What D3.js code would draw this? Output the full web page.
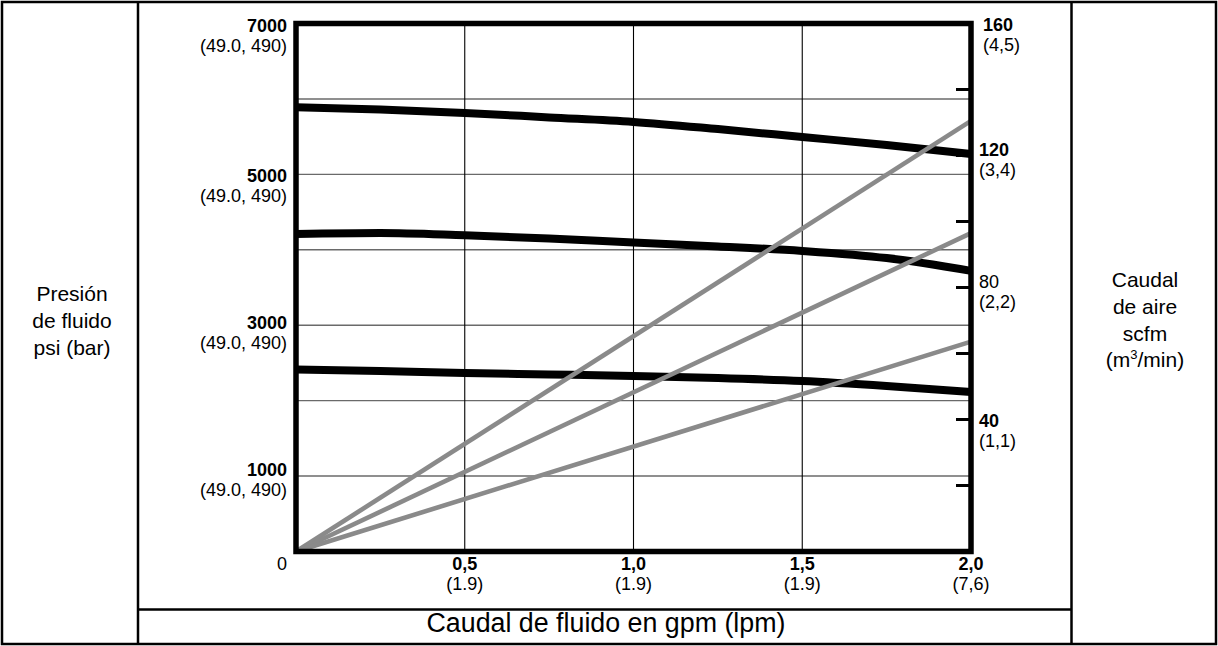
<!DOCTYPE html>
<html><head><meta charset="utf-8">
<script src="https://cdn.jsdelivr.net/npm/d3@7"></script>
<style>
html,body{margin:0;padding:0;background:#fff;}
svg{display:block;font-family:"Liberation Sans",Arial,Helvetica,sans-serif;}
</style></head>
<body>
<svg id="chart" width="1218" height="646"></svg>
<script>
// ---- data ----
const flowGpm = [0, 0.25, 0.5, 0.75, 1.0, 1.25, 1.5, 1.75, 2.0];
const pressureHigh = [5890, 5860, 5815, 5755, 5695, 5600, 5495, 5390, 5270];
const pressureMid  = [4210, 4222, 4192, 4150, 4095, 4045, 3985, 3890, 3720];
const pressureLow  = [2413, 2393, 2366, 2347, 2327, 2300, 2260, 2194, 2115];
const airGpm  = [0, 2.0];
const airHigh = [0, 130.5];
const airMid  = [0, 96.5];
const airLow  = [0, 63.6];
const psiGrid = [1000, 2000, 3000, 4000, 5000, 6000];
const psiLabels = ["7000", "5000", "3000", "1000"];
const psiSubLabels = ["(49.0, 490)", "(49.0, 490)", "(49.0, 490)", "(49.0, 490)"];
const scfmTicks = [20, 40, 60, 80, 100, 120, 140];
const scfmLabels = ["160", "120", "80", "40"];
const scfmSubLabels = ["(4,5)", "(3,4)", "(2,2)", "(1,1)"];
const gpmTicks = [0.5, 1.0, 1.5, 2.0];
const gpmLabels = ["0,5", "1,0", "1,5", "2,0"];
const lpmLabels = ["(1.9)", "(1.9)", "(1.9)", "(7,6)"];
const leftTitle = ["Presión", "de fluido", "psi (bar)"];
const rightTitle = ["Caudal", "de aire", "scfm"];
const bottomTitle = "Caudal de fluido en gpm (lpm)";

// ---- layout ----
const W = 1218, H = 646;
const P = {l: 296, r: 971, t: 23.5, b: 551.5};
const svg = d3.select("#chart");

const x = d3.scaleLinear().domain([0, 2]).range([P.l, P.r]);
const yP = d3.scaleLinear().domain([0, 7000]).range([P.b, P.t]);
const yA = d3.scaleLinear().domain([0, 160]).range([P.b, P.t]);

// outer table
const frame = svg.append("g").attr("stroke", "#000").attr("stroke-width", 2.5).attr("fill", "none");
frame.append("rect").attr("x", 2).attr("y", 2).attr("width", W - 4).attr("height", H - 4);
frame.append("line").attr("x1", 138).attr("x2", 138).attr("y1", 2).attr("y2", H - 2);
frame.append("line").attr("x1", 1071.5).attr("x2", 1071.5).attr("y1", 2).attr("y2", H - 2);
frame.append("line").attr("x1", 138).attr("x2", 1071.5).attr("y1", 609.5).attr("y2", 609.5);

// grid
const grid = svg.append("g");
grid.selectAll("line.h").data(psiGrid).join("line").attr("class", "h")
  .attr("x1", P.l).attr("x2", P.r).attr("y1", d => yP(d)).attr("y2", d => yP(d))
  .attr("stroke", "#6a6a6a").attr("stroke-width", 1.4);
grid.selectAll("line.v").data(gpmTicks.slice(0, 3)).join("line").attr("class", "v")
  .attr("x1", d => x(d)).attr("x2", d => x(d)).attr("y1", P.t).attr("y2", P.b)
  .attr("stroke", "#000").attr("stroke-width", 1.1);

// pressure curves
const lineP = d3.line().x((d, i) => x(flowGpm[i])).y(d => yP(d)).curve(d3.curveMonotoneX);
[pressureHigh, pressureMid, pressureLow].forEach(s => {
  svg.append("path").attr("d", lineP(s)).attr("fill", "none")
    .attr("stroke", "#000").attr("stroke-width", 8);
});

// air lines
const lineA = d3.line().x((d, i) => x(airGpm[i])).y(d => yA(d));
[airHigh, airMid, airLow].forEach(s => {
  svg.append("path").attr("d", lineA(s)).attr("fill", "none")
    .attr("stroke", "#8a8a8a").attr("stroke-width", 4.6);
});

// right ticks
svg.selectAll("line.rt").data(scfmTicks).join("line").attr("class", "rt")
  .attr("x1", P.r - 15).attr("x2", P.r).attr("y1", d => yA(d)).attr("y2", d => yA(d))
  .attr("stroke", "#000").attr("stroke-width", 3);

// plot frame
svg.append("rect").attr("x", P.l).attr("y", P.t).attr("width", P.r - P.l).attr("height", P.b - P.t)
  .attr("fill", "none").attr("stroke", "#000").attr("stroke-width", 5.5);

// left labels
const leftDy = [8.5, 7.5, 4, 0];
const lg = svg.append("g").attr("font-size", 18).attr("text-anchor", "end");
psiLabels.forEach((t, i) => {
  const yy = yP(+t) + leftDy[i];
  lg.append("text").attr("x", P.l - 9).attr("y", yy).attr("font-weight", "bold").text(t);
  lg.append("text").attr("x", P.l - 9).attr("y", yy + 20).text(psiSubLabels[i]);
});

// right labels
const rightDy = [7.5, 0, 0.5, 7.5];
const rightDx = [12, 8, 8, 8];
const rg = svg.append("g").attr("font-size", 18).attr("text-anchor", "start");
scfmLabels.forEach((t, i) => {
  const yy = yA(+t) + rightDy[i];
  rg.append("text").attr("x", P.r + rightDx[i]).attr("y", yy)
    .attr("font-weight", t === "80" ? "normal" : "bold").text(t);
  rg.append("text").attr("x", P.r + rightDx[i]).attr("y", yy + 20).text(scfmSubLabels[i]);
});

// bottom labels
const bg = svg.append("g").attr("font-size", 18).attr("text-anchor", "middle");
bg.append("text").attr("x", x(0) - 9).attr("y", 570).attr("text-anchor", "end").text("0");
gpmLabels.forEach((t, i) => {
  bg.append("text").attr("x", x(gpmTicks[i])).attr("y", 570).attr("font-weight", "bold").text(t);
  bg.append("text").attr("x", x(gpmTicks[i])).attr("y", 590).text(lpmLabels[i]);
});

// titles
const tl = svg.append("g").attr("font-size", 21).attr("text-anchor", "middle");
leftTitle.forEach((t, i) => tl.append("text").attr("x", 72).attr("y", 301 + i * 27).text(t));
const tr = svg.append("g").attr("font-size", 21).attr("text-anchor", "middle");
rightTitle.forEach((t, i) => tr.append("text").attr("x", 1145).attr("y", 287 + i * 27).text(t));
const last = tr.append("text").attr("x", 1145).attr("y", 287 + 3 * 26.5);
last.append("tspan").text("(m");
last.append("tspan").attr("font-size", 13).attr("dy", -8).text("3");
last.append("tspan").attr("dy", 8).text("/min)");
svg.append("text").attr("x", 606).attr("y", 632).attr("font-size", 26.8)
  .attr("text-anchor", "middle").text(bottomTitle);
</script>
</body></html>
